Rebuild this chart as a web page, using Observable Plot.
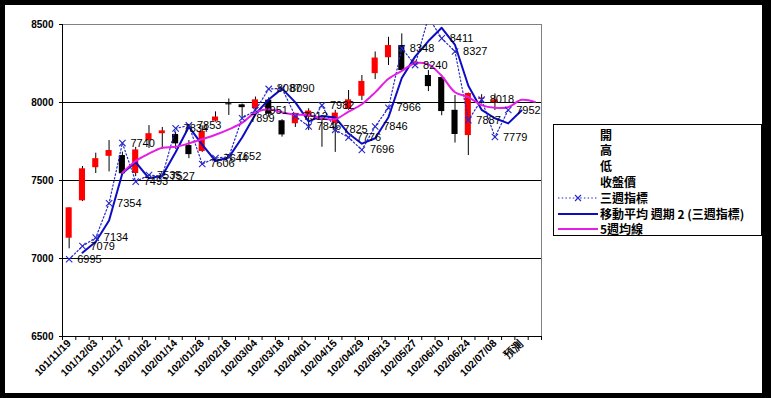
<!DOCTYPE html>
<html><head><meta charset="utf-8">
<script src="https://cdn.jsdelivr.net/npm/d3@7"></script>
<script src="https://cdn.jsdelivr.net/npm/@observablehq/plot@0.6"></script>
<style>
html,body{margin:0;padding:0;background:#000;width:771px;height:398px;overflow:hidden;}
#white{position:absolute;left:5px;top:5px;width:757px;height:388px;background:#fff;}
#chart{position:absolute;left:0;top:0;}
#legend{position:absolute;left:553px;top:124px;width:207px;height:110px;border:1px solid #000;background:#fff;font-family:"Noto Sans CJK TC";font-size:12px;font-weight:bold;color:#000;}
.row{position:absolute;left:0;height:16px;width:207px;}
.row span{position:absolute;left:46px;top:0;line-height:16px;white-space:nowrap;}
.row svg{position:absolute;left:3px;top:0;}
</style></head>
<body><div id="white"></div><div id="chart"></div><div id="legend"></div>
<script>
// category labels (weekly)
const weeks = ["101/11/19","101/11/26","101/12/03","101/12/10","101/12/17","101/12/24","102/01/02","102/01/07","102/01/14","102/01/21","102/01/28","102/02/04","102/02/18","102/02/25","102/03/04","102/03/11","102/03/18","102/03/25","102/04/01","102/04/08","102/04/15","102/04/22","102/04/29","102/05/06","102/05/13","102/05/20","102/05/27","102/06/03","102/06/10","102/06/17","102/06/24","102/07/01","102/07/08","102/07/15","預測",""];
const yTicks = [6500, 7000, 7500, 8000, 8500];
const gridVals = [7000, 7500, 8000];
// candles: 開 高 低 收盤價
const openP  = [7130,7370,7582,7655,7660,7545,7755,7800,7795,7724,7686,7880,7992,7985,7960,8015,7883,7864,7905,7912,7866,7955,8040,8185,8287,8365,8238,8173,8160,7950,7788,8020,7996];
const highP  = [7325,7590,7675,7756,7682,7712,7852,7840,7810,7756,7850,7940,8023,7990,8035,8030,7890,7930,7960,7917,7950,8077,8173,8324,8418,8440,8265,8205,8175,8045,8060,8050,8055];
const lowP   = [7062,7365,7545,7555,7540,7525,7705,7700,7700,7640,7680,7875,7917,7900,7940,7905,7778,7840,7820,7713,7680,7950,8012,8147,8237,8200,8232,8070,7915,7740,7660,7990,7949];
const closeP = [7325,7575,7640,7692,7543,7696,7800,7818,7735,7666,7815,7907,7985,7967,8017,7925,7792,7930,7945,7905,7932,8017,8135,8285,8365,8205,8260,8102,7942,7795,8058,8028,8017];
// 三週指標 (categories 1..34)
const indexVals = [6995,7079,7134,7354,7740,7493,7535,7527,7834,7853,7606,7644,7652,7899,7951,8087,8090,7912,7846,7982,7825,7776,7696,7846,7966,8348,8240,8547,8411,8327,7887,8018,7779,7952];
// 移動平均 週期 2 (categories 2..35)
const ma2Vals = [7037,7107,7244,7547,7617,7514,7531,7681,7844,7730,7625,7648,7776,7925,8019,8089,8001,7879,7914,7904,7801,7736,7771,7906,8157,8294,8394,8479,8369,8107,7953,7899,7866,7949];
// 5週均線 (categories 5..36)
const ma5Vals = [7550,7625,7672,7710,7716,7738,7765,7793,7828,7869,7936,7957,7937,7922,7920,7897,7893,7942,7989,8065,8152,8203,8251,8244,8170,8066,8035,7983,7966,7970,8017,8004];
const legendNames = ["開","高","低","收盤價","三週指標","移動平均 週期 2 (三週指標)","5週均線"];

const candles = openP.map((o, k) => ({i: k + 1, open: o, high: highP[k], low: lowP[k], close: closeP[k]}));
const ind = indexVals.map((v, k) => ({i: k + 1, v}));
const ma2 = ma2Vals.map((v, k) => ({i: k + 2, v}));
const ma5 = ma5Vals.map((v, k) => ({i: k + 5, v}));
const nCat = weeks.length;
const boundaries = d3.range(0, nCat + 1).map(k => k + 0.5);
const labelTicks = d3.range(1, nCat + 1, 2);

const dotBlue = "#2828c8", solidBlue = "#0c0cc4", magenta = "#e41ee4";

const chart = Plot.plot({
  width: 771, height: 398,
  marginLeft: 62, marginRight: 230, marginTop: 24, marginBottom: 62,
  style: {background: "transparent", fontFamily: "Liberation Sans, Arial, sans-serif", color: "#000"},
  x: {domain: [0.5, nCat + 0.5], label: null},
  y: {domain: [6500, 8500], label: null},
  marks: [
    Plot.frame({stroke: "#808080"}),
    Plot.ruleY(gridVals, {stroke: "#000", strokeWidth: 1}),
    Plot.ruleX(candles, {x: "i", y1: "low", y2: "high", stroke: "#000", strokeWidth: 1}),
    Plot.rectY(candles, {x1: d => d.i - 0.5, x2: d => d.i + 0.5, y1: "open", y2: "close",
      fill: d => d.close >= d.open ? "#ff0000" : "#000000", insetLeft: 3.6, insetRight: 3.6}),
    Plot.line(ind, {x: "i", y: "v", stroke: dotBlue, strokeWidth: 1.2, strokeDasharray: "1.5 2.2", clip: true}),
    Plot.line(ma2, {x: "i", y: "v", stroke: solidBlue, strokeWidth: 2}),
    Plot.line(ma5, {x: "i", y: "v", stroke: magenta, strokeWidth: 2, curve: "catmull-rom"}),
    Plot.dot(ind, {x: "i", y: "v", symbol: "times", r: 3, stroke: dotBlue, strokeWidth: 1.1, clip: true}),
    Plot.text(ind, {x: "i", y: "v", text: d => String(d.v), dx: 8, textAnchor: "start", fontSize: 11, fill: "#000", clip: true}),
    Plot.ruleX([0.5], {stroke: "#000"}),
    Plot.ruleY([6500], {stroke: "#000"}),
    Plot.axisY({ticks: yTicks, tickSize: 3, tickPadding: 6, fontSize: 10, fontWeight: "bold", label: null, tickFormat: d => String(d)}),
    Plot.axisX({ticks: boundaries, tickSize: 4, label: null, tickFormat: () => ""}),
    Plot.axisX({ticks: labelTicks, tickSize: 0, tickPadding: 5, tickRotate: -45, fontSize: 10.5, fontWeight: "bold", label: null, tickFormat: i => weeks[i - 1]})
  ]
});
document.getElementById("chart").appendChild(chart);

// legend
const legend = document.getElementById("legend");
legendNames.forEach((name, k) => {
  const row = document.createElement("div");
  row.className = "row";
  row.style.top = (1.5 + k * 15.8) + "px";
  let sym = "";
  if (k === 4) sym = `<svg width="42" height="16"><line x1="1" y1="8" x2="41" y2="8" stroke="${dotBlue}" stroke-width="1.2" stroke-dasharray="1.5 2.2"/><path d="M18,5L24,11M24,5L18,11" stroke="${dotBlue}" stroke-width="1.1"/></svg>`;
  if (k === 5) sym = `<svg width="42" height="16"><line x1="1" y1="8" x2="41" y2="8" stroke="${solidBlue}" stroke-width="2"/></svg>`;
  if (k === 6) sym = `<svg width="42" height="16"><line x1="1" y1="8" x2="41" y2="8" stroke="${magenta}" stroke-width="2"/></svg>`;
  row.innerHTML = sym + `<span>${name}</span>`;
  legend.appendChild(row);
});
</script></body></html>
